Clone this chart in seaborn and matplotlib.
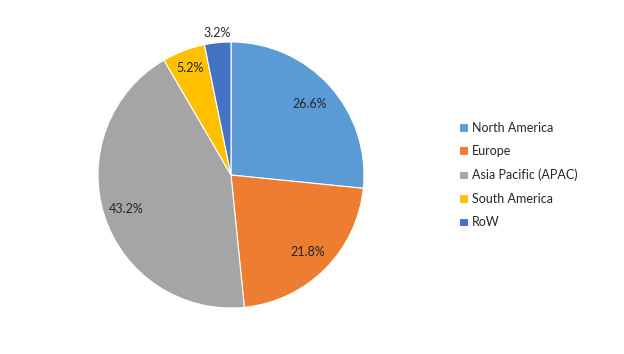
import numpy as np
import matplotlib.pyplot as plt
import seaborn as sns

regions = ['North America', 'Europe', 'Asia Pacific (APAC)', 'South America', 'RoW']
shares = [26.6, 21.8, 43.2, 5.2, 3.2]
colors = ['#5B9BD5', '#ED7D31', '#A5A5A5', '#FFC000', '#4472C4']
# where each label sits, as a fraction of the radius
label_r = [0.80, 0.82, 0.83, 0.86, 1.07]

sns.set_theme(style="white")
plt.rcParams['font.family'] = ['Lato', 'DejaVu Sans']

fig = plt.figure(figsize=(6.24, 3.54), dpi=100)
ax = fig.add_axes([(231 - 133) / 624, (354 - 175 - 133) / 354, 266 / 624, 266 / 354])

wedges, _ = ax.pie(shares, colors=sns.color_palette(colors), startangle=90, counterclock=False,
                   wedgeprops=dict(edgecolor='white', linewidth=0.8))
ax.set_xlim(-1, 1)
ax.set_ylim(-1, 1)

total = sum(shares)
start = 90.0
for val, r in zip(shares, label_r):
    mid = np.deg2rad(start - val / total * 360 / 2)
    ax.text(r * np.cos(mid), r * np.sin(mid), f'{val}%', ha='center', va='center',
            fontsize=9, color='#262626')
    start -= val / total * 360

fig.legend(wedges, regions, loc='center left', bbox_to_anchor=(448 / 624, 1 - 175 / 354),
           frameon=False, fontsize=9, handlelength=0.7, handleheight=0.7,
           handletextpad=0.3, labelspacing=0.92, labelcolor='#262626')

fig.savefig('out.png', dpi=100)
